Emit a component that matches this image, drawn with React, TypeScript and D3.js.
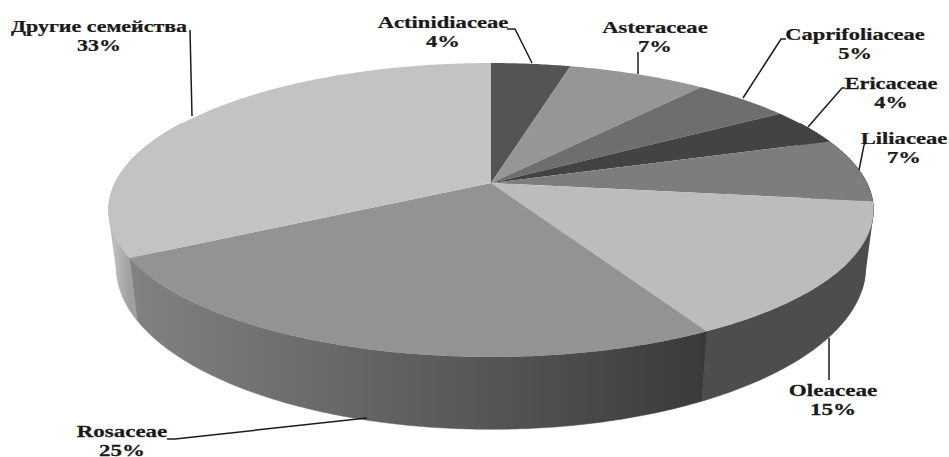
import React from "react";
import * as d3 from "d3";

// Share of each plant family, clockwise from twelve o'clock
const families = ["Actinidiaceae", "Asteraceae", "Caprifoliaceae", "Ericaceae", "Liliaceae", "Oleaceae", "Rosaceae", "Другие семейства"];
const shares = [4, 7, 5, 4, 7, 15, 25, 33];
const topColors = ["#545454", "#969696", "#6e6e6e", "#434343", "#7d7d7d", "#bcbcbc", "#939393", "#c3c3c3"];
// Colours at the start and end of each slice's outer wall
const wallColors = [
  ["#3f3f3f", "#3f3f3f"], ["#707070", "#707070"], ["#525252", "#525252"], ["#323232", "#323232"],
  ["#4d4d4d", "#4d4d4d"], ["#4d4d4d", "#4d4d4d"], ["#3a3a3a", "#828282"], ["#a0a0a0", "#bcbcbc"],
];
// Anchor (label centre, first-line baseline) and leader polyline for each label
const labelAnchors = [[443, 28], [655, 33], [855, 40], [891, 89], [904, 144], [833, 396], [122, 437], [99, 32]];
const labelStretch = [1.33, 1.33, 1.32, 1.31, 1.33, 1.36, 1.35, 1.29];
const leaders = [
  [[507, 29], [515, 29], [532, 63]],
  [[638, 52], [638, 74]],
  [[786, 39], [781, 39], [743, 98]],
  [[845, 88], [842, 88], [808, 127]],
  [[865, 144], [864, 145], [859, 170]],
  [[829, 338], [829, 380]],
  [[167, 439], [175, 439], [367, 418]],
  [[190, 30], [192, 116]],
];

const W = 949;
const H = 457;
const hub = { x: 491, y: 183 };
// Projection constants for a tilted disc seen through a perspective camera
const spanX = 376;
const spanY = 142;
const persp = 0.1837;
const drop = 0.02;
const floorSpanY = 150;
const floorShift = 56;

const project = (a: number, bottom = false): [number, number] => {
  const u = Math.sin(a);
  const v = Math.cos(a);
  if (!bottom) {
    const w = 1 + persp * v;
    return [hub.x + (spanX * u) / w, hub.y - (spanY * v) / w];
  }
  const w = 1 + persp * v + drop;
  return [hub.x + (spanX * u) / w, hub.y + (floorShift - floorSpanY * v) / w];
};

const steps = (a0: number, a1: number) => {
  const n = Math.max(2, Math.ceil(Math.abs(a1 - a0) / 0.01));
  return d3.range(n + 1).map((i) => a0 + ((a1 - a0) * i) / n);
};

const line = d3.line();
const wallFrom = Math.PI * 0.35;
const wallTo = Math.PI * 1.65;

// Hull of the rim between two angles, top and floor together: closes the
// straight tangent the cylinder makes at its left and right silhouettes
const sideHull = (a0: number, a1: number) => {
  const as = steps(a0, a1);
  const hull = d3.polygonHull([...as.map((a) => project(a)), ...as.map((a) => project(a, true))]);
  return hull ? line(hull) + "Z" : "";
};

export default function App() {
  const arcs = d3.pie<number>().sort(null)(shares);
  return (
    <svg width={W} height={H} style={{ position: "absolute", left: 0, top: 0, background: "#fff" }}>
      <defs>
        {arcs.map((d, i) => {
          // Shade across the part of the wall that is actually on show
          const a0 = Math.max(d.startAngle, Math.PI / 2);
          const a1 = Math.min(d.endAngle, Math.PI * 1.5);
          const x0 = project(a0)[0];
          const x1 = a1 > a0 ? project(a1)[0] : x0 + 1;
          return (
            <linearGradient key={i} id={`wall${i}`} gradientUnits="userSpaceOnUse" x1={x0} x2={x1} y1={0} y2={0}>
              <stop offset="0" stopColor={wallColors[i][0]} />
              <stop offset="1" stopColor={wallColors[i][1]} />
            </linearGradient>
          );
        })}
      </defs>
      <path d={sideHull(Math.PI * 0.35, Math.PI * 0.6)} fill="url(#wall5)" />
      <path d={sideHull(arcs[7].startAngle, wallTo)} fill="url(#wall7)" />
      {arcs.map((d, i) => {
        // Only the front of the rim needs a wall; the top face hides the rest
        const a0 = Math.max(d.startAngle, wallFrom);
        const a1 = Math.min(d.endAngle, wallTo);
        if (a1 <= a0) return null;
        const as = steps(a0, a1);
        const pts = [...as.map((a) => project(a)), ...as.slice().reverse().map((a) => project(a, true))];
        return <path key={i} d={line(pts) + "Z"} fill={`url(#wall${i})`} stroke={`url(#wall${i})`} strokeWidth={0.5} />;
      })}
      {arcs.map((d, i) => {
        const pts = [[hub.x, hub.y] as [number, number], ...steps(d.startAngle, d.endAngle).map((a) => project(a))];
        return <path key={i} d={line(pts) + "Z"} fill={topColors[i]} />;
      })}
      {leaders.map((p, i) => (
        <path key={i} d={line(p as [number, number][]) ?? ""} fill="none" stroke="#1c1c1c" strokeWidth={1.5} />
      ))}
      {families.map((name, i) => (
        <text
          key={name}
          transform={`translate(${labelAnchors[i][0]},${labelAnchors[i][1]}) scale(${labelStretch[i]},1)`}
          textAnchor="middle"
          fontFamily="Liberation Serif"
          fontWeight="bold"
          fontSize={17}
          fill="#1a1a1a"
          stroke="#1a1a1a"
          strokeWidth={0.25}
        >
          <tspan x={0} dy={0}>{name}</tspan>
          <tspan x={0} dy={19}>{shares[i]}%</tspan>
        </text>
      ))}
    </svg>
  );
}
